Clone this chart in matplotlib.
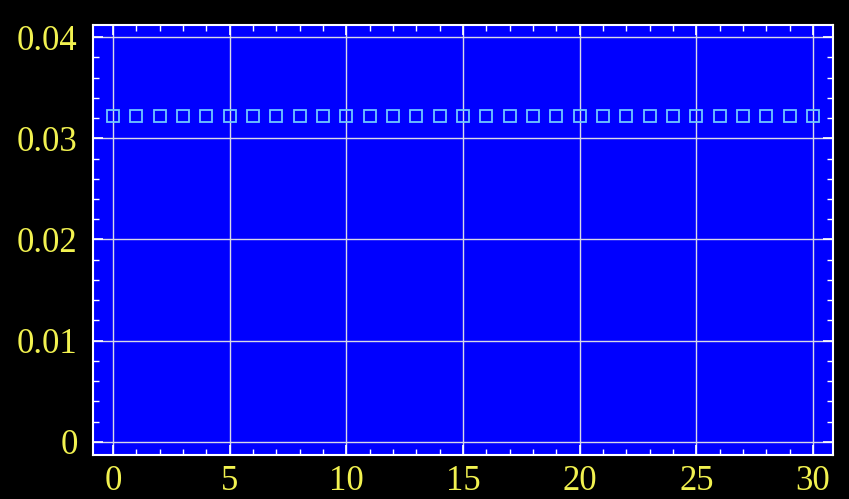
import matplotlib
matplotlib.use('Agg')
import matplotlib.pyplot as plt
from matplotlib.ticker import MultipleLocator

# data
n_values = list(range(0, 31))
p_values = [0.0322] * 31

x_ticks = [0, 5, 10, 15, 20, 25, 30]
y_ticks = [0, 0.01, 0.02, 0.03, 0.04]
y_labels = ['0', '0.01', '0.02', '0.03', '0.04']

plt.rcParams['font.family'] = ['Liberation Serif', 'DejaVu Serif']

fig = plt.figure(figsize=(8.49, 4.99), dpi=100, facecolor='black')
ax = fig.add_axes([93 / 849, 1 - 455 / 499, 740 / 849, 430 / 499])
ax.set_facecolor('#0000ff')

ax.plot(n_values, p_values, linestyle='none', marker='s', markersize=8,
        markerfacecolor='none', markeredgecolor='#70c8ff', markeredgewidth=1.3)

ax.set_xlim(-0.857, 30.857)
ax.set_ylim(-0.0013, 0.0412)
ax.set_xticks(x_ticks)
ax.set_xticklabels([str(t) for t in x_ticks])
ax.set_yticks(y_ticks)
ax.set_yticklabels(y_labels)
ax.xaxis.set_minor_locator(MultipleLocator(1))
ax.yaxis.set_minor_locator(MultipleLocator(0.002))

ax.grid(True, which='major', color='#d8d8e8', linewidth=1.0)
ax.set_axisbelow(True)
for s in ax.spines.values():
    s.set_color('white')
    s.set_linewidth(1.5)

ax.tick_params(which='both', direction='in', colors='white', top=True, right=True,
               labelcolor='#f2f250', labelsize=25)
ax.tick_params(which='major', length=7, width=1.2)
ax.tick_params(which='minor', length=4, width=1.0)
ax.tick_params(axis='x', pad=7)
ax.tick_params(axis='y', pad=11)

fig.savefig('out.png', dpi=100, facecolor='black')
